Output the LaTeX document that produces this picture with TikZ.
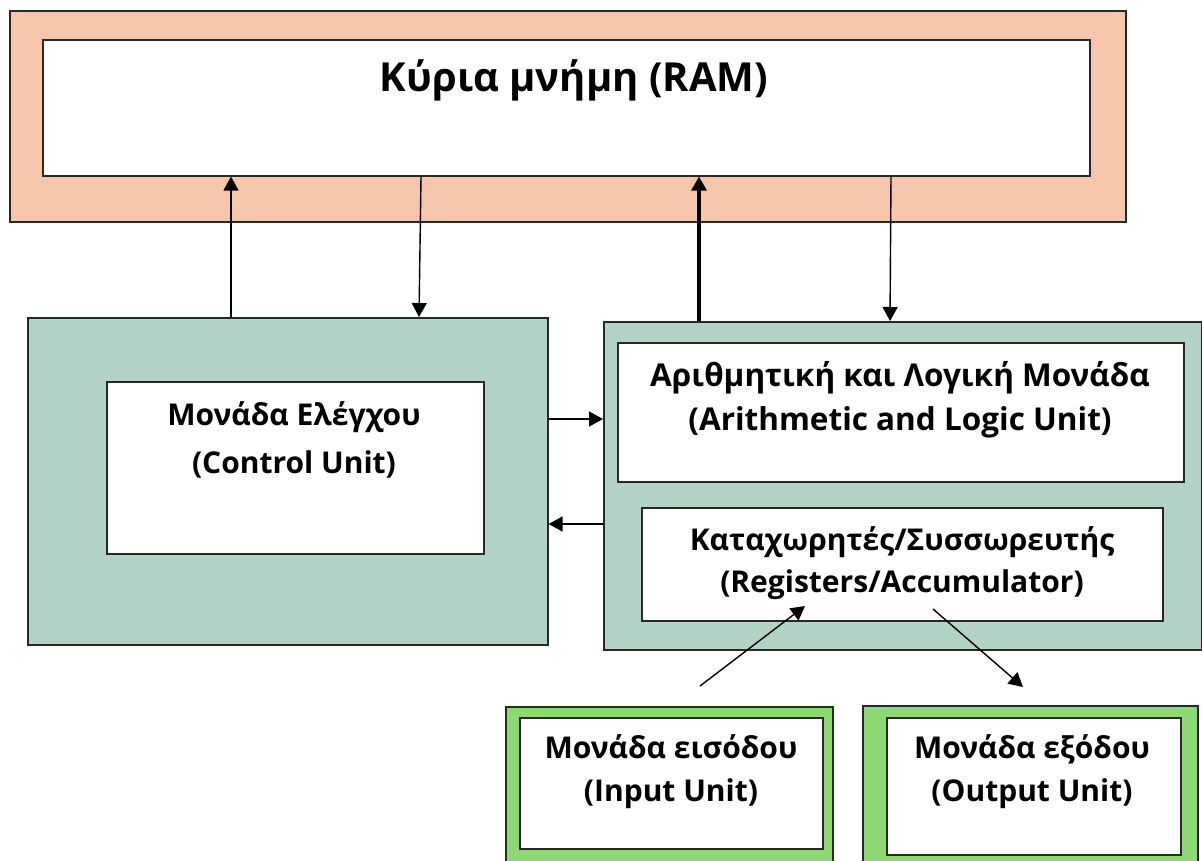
\documentclass[tikz,border=0pt]{standalone}
\usepackage{fontspec}
\setmainfont{Open Sans}
\usetikzlibrary{arrows.meta}
\definecolor{salmon}{RGB}{245,198,172}
\definecolor{sage}{RGB}{178,211,197}
\definecolor{lgreen}{RGB}{142,216,115}
\definecolor{edge}{RGB}{40,40,40}
\begin{document}
\begin{tikzpicture}[x=1pt,y=-1pt,
  box/.style={draw=edge, line width=1.6pt, inner sep=0pt, anchor=north west},
  lbl/.style={align=center, text=black, inner sep=0pt},
  arr/.style={-{Triangle[length=14pt,width=15pt]}, line width=1.4pt, draw=black},
]
\clip (0,0) rectangle (1202,861);
\useasboundingbox (0,0) rectangle (1202,861);
% RAM
\node[box, fill=salmon, minimum width=1116pt, minimum height=211pt] (ram) at (9,10) {};
\node[box, fill=white, minimum width=1047pt, minimum height=136pt] (raminner) at (42,39) {};
\node[lbl, font=\bfseries\fontsize{40}{46}\selectfont] (ramtxt) at (574,80) {Κύρια μνήμη (RAM)};
% Control unit
\node[box, fill=sage, minimum width=520pt, minimum height=327pt] (ctrl) at (27,317) {};
\node[box, fill=white, minimum width=377pt, minimum height=172pt] (ctrlinner) at (106,381) {};
\node[lbl, font=\bfseries\fontsize{30}{48}\selectfont] (ctrltxt) at (294,440) {Μονάδα Ελέγχου\\(Control Unit)};
% CPU right
\node[box, fill=sage, minimum width=598pt, minimum height=328pt] (cpu) at (603,321) {};
\node[box, fill=white, minimum width=566pt, minimum height=139pt] (alu) at (617,342) {};
\node[lbl, font=\bfseries\fontsize{31.5}{44}\selectfont] (alutxt) at (900,400) {Αριθμητική και Λογική Μονάδα\\(Arithmetic and Logic Unit)};
\node[box, fill=white, minimum width=521pt, minimum height=113pt] (reg) at (641,507) {};
\node[lbl, font=\bfseries\fontsize{30}{42}\selectfont] (regtxt) at (902,563) {Καταχωρητές/Συσσωρευτής\\(Registers/Accumulator)};
% Input
\node[box, fill=lgreen, minimum width=327pt, minimum height=160pt] (inout) at (505,706) {};
\node[box, fill=white, minimum width=303pt, minimum height=131pt] (ininner) at (519,717) {};
\node[lbl, font=\bfseries\fontsize{30}{43}\selectfont] (intxt) at (671,772) {Μονάδα εισόδου\\(Input Unit)};
% Output
\node[box, fill=lgreen, minimum width=335pt, minimum height=160pt] (outout) at (862,705) {};
\node[box, fill=white, minimum width=294pt, minimum height=137pt] (outinner) at (886,717) {};
\node[lbl, font=\bfseries\fontsize{30}{43}\selectfont] (outtxt) at (1032,772) {Μονάδα εξόδου\\(Output Unit)};
% arrows
\draw[arr] (231,0 |- ctrl.north) -- (231,0 |- raminner.south);
\draw[arr] (421,0 |- raminner.south) -- (419,0 |- ctrl.north);
\draw[arr, line width=3.2pt] (699,0 |- cpu.north) -- (699,0 |- raminner.south);
\draw[arr] (891,0 |- raminner.south) -- (890,0 |- cpu.north);
\draw[arr] (ctrl.east |- 0,419) -- (cpu.west |- 0,419);
\draw[arr] (cpu.west |- 0,524) -- (ctrl.east |- 0,524);
\coordinate (inS) at (700,686);
\coordinate (inE) at (805,606);
\coordinate (outS) at (933,609);
\coordinate (outE) at (1023,687);
\draw[arr] (inS) -- (inE);
\draw[arr] (outS) -- (outE);
\end{tikzpicture}
\end{document}
